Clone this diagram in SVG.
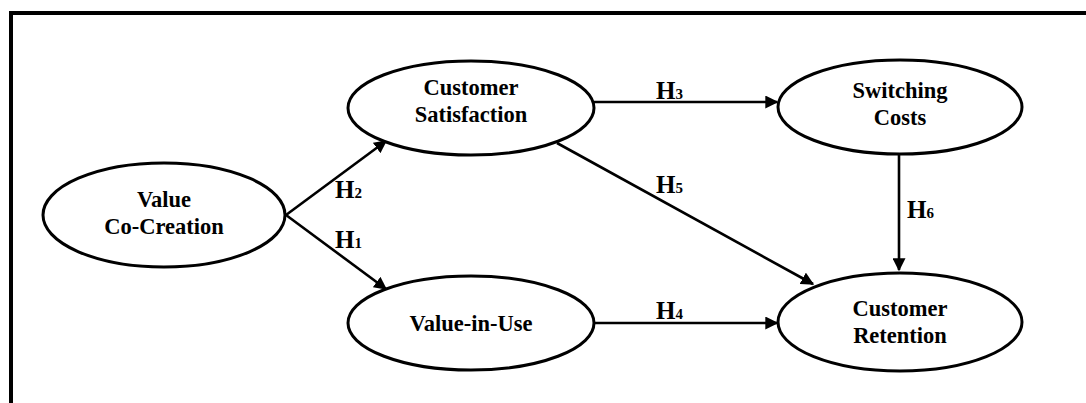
<svg xmlns="http://www.w3.org/2000/svg" width="1086" height="403" viewBox="0 0 1086 403">
<style>
.node ellipse{fill:#fff;stroke:#000;stroke-width:3}
text{font-family:"Liberation Serif","Times New Roman",serif;font-weight:bold;fill:#000}
.lbl{font-size:22.5px;text-anchor:middle}
.h{font-size:25px}
.sub{font-size:15px}
.edge{stroke:#000;stroke-width:2.6;fill:none;marker-end:url(#ah)}
</style>
<defs>
<marker id="ah" viewBox="0 0 10 10" refX="9" refY="5" markerWidth="5" markerHeight="5" markerUnits="strokeWidth" orient="auto">
<path d="M0,0 L10,5 L0,10 z" fill="#000"/>
</marker>
</defs>
<rect width="1086" height="403" fill="#fff"/>
<g id="frame">
<line x1="9" y1="13" x2="1086" y2="13" stroke="#000" stroke-width="4"/>
<line x1="11" y1="11" x2="11" y2="403" stroke="#000" stroke-width="4"/>
</g>
<g id="connectors">
<line class="edge" x1="286" y1="215" x2="386" y2="141"/>
<line class="edge" x1="286" y1="215" x2="386" y2="289"/>
<line class="edge" x1="594" y1="102" x2="777" y2="102"/>
<line class="edge" x1="557" y1="143" x2="813" y2="284"/>
<line class="edge" x1="594" y1="323" x2="777" y2="323"/>
<line class="edge" x1="899" y1="154" x2="899" y2="270"/>
<text class="h" x="335" y="198">H<tspan class="sub">2</tspan></text>
<text class="h" x="335" y="248">H<tspan class="sub">1</tspan></text>
<text class="h" x="656" y="99">H<tspan class="sub">3</tspan></text>
<text class="h" x="656" y="193">H<tspan class="sub">5</tspan></text>
<text class="h" x="656" y="319">H<tspan class="sub">4</tspan></text>
<text class="h" x="907" y="218">H<tspan class="sub">6</tspan></text>
</g>
<g id="value-co-creation" class="node">
<ellipse cx="164" cy="215" rx="121" ry="52"/>
<text class="lbl" x="164" y="207">Value</text>
<text class="lbl" x="164" y="234">Co-Creation</text>
</g>
<g id="customer-satisfaction" class="node">
<ellipse cx="471" cy="108" rx="123" ry="47"/>
<text class="lbl" x="471" y="95">Customer</text>
<text class="lbl" x="471" y="122">Satisfaction</text>
</g>
<g id="switching-costs" class="node">
<ellipse cx="900" cy="107" rx="122" ry="47"/>
<text class="lbl" x="900" y="98">Switching</text>
<text class="lbl" x="900" y="125">Costs</text>
</g>
<g id="value-in-use" class="node">
<ellipse cx="471" cy="323" rx="123" ry="47"/>
<text class="lbl" x="471" y="331">Value-in-Use</text>
</g>
<g id="customer-retention" class="node">
<ellipse cx="900" cy="322" rx="122" ry="49"/>
<text class="lbl" x="900" y="316">Customer</text>
<text class="lbl" x="900" y="343">Retention</text>
</g>
</svg>
